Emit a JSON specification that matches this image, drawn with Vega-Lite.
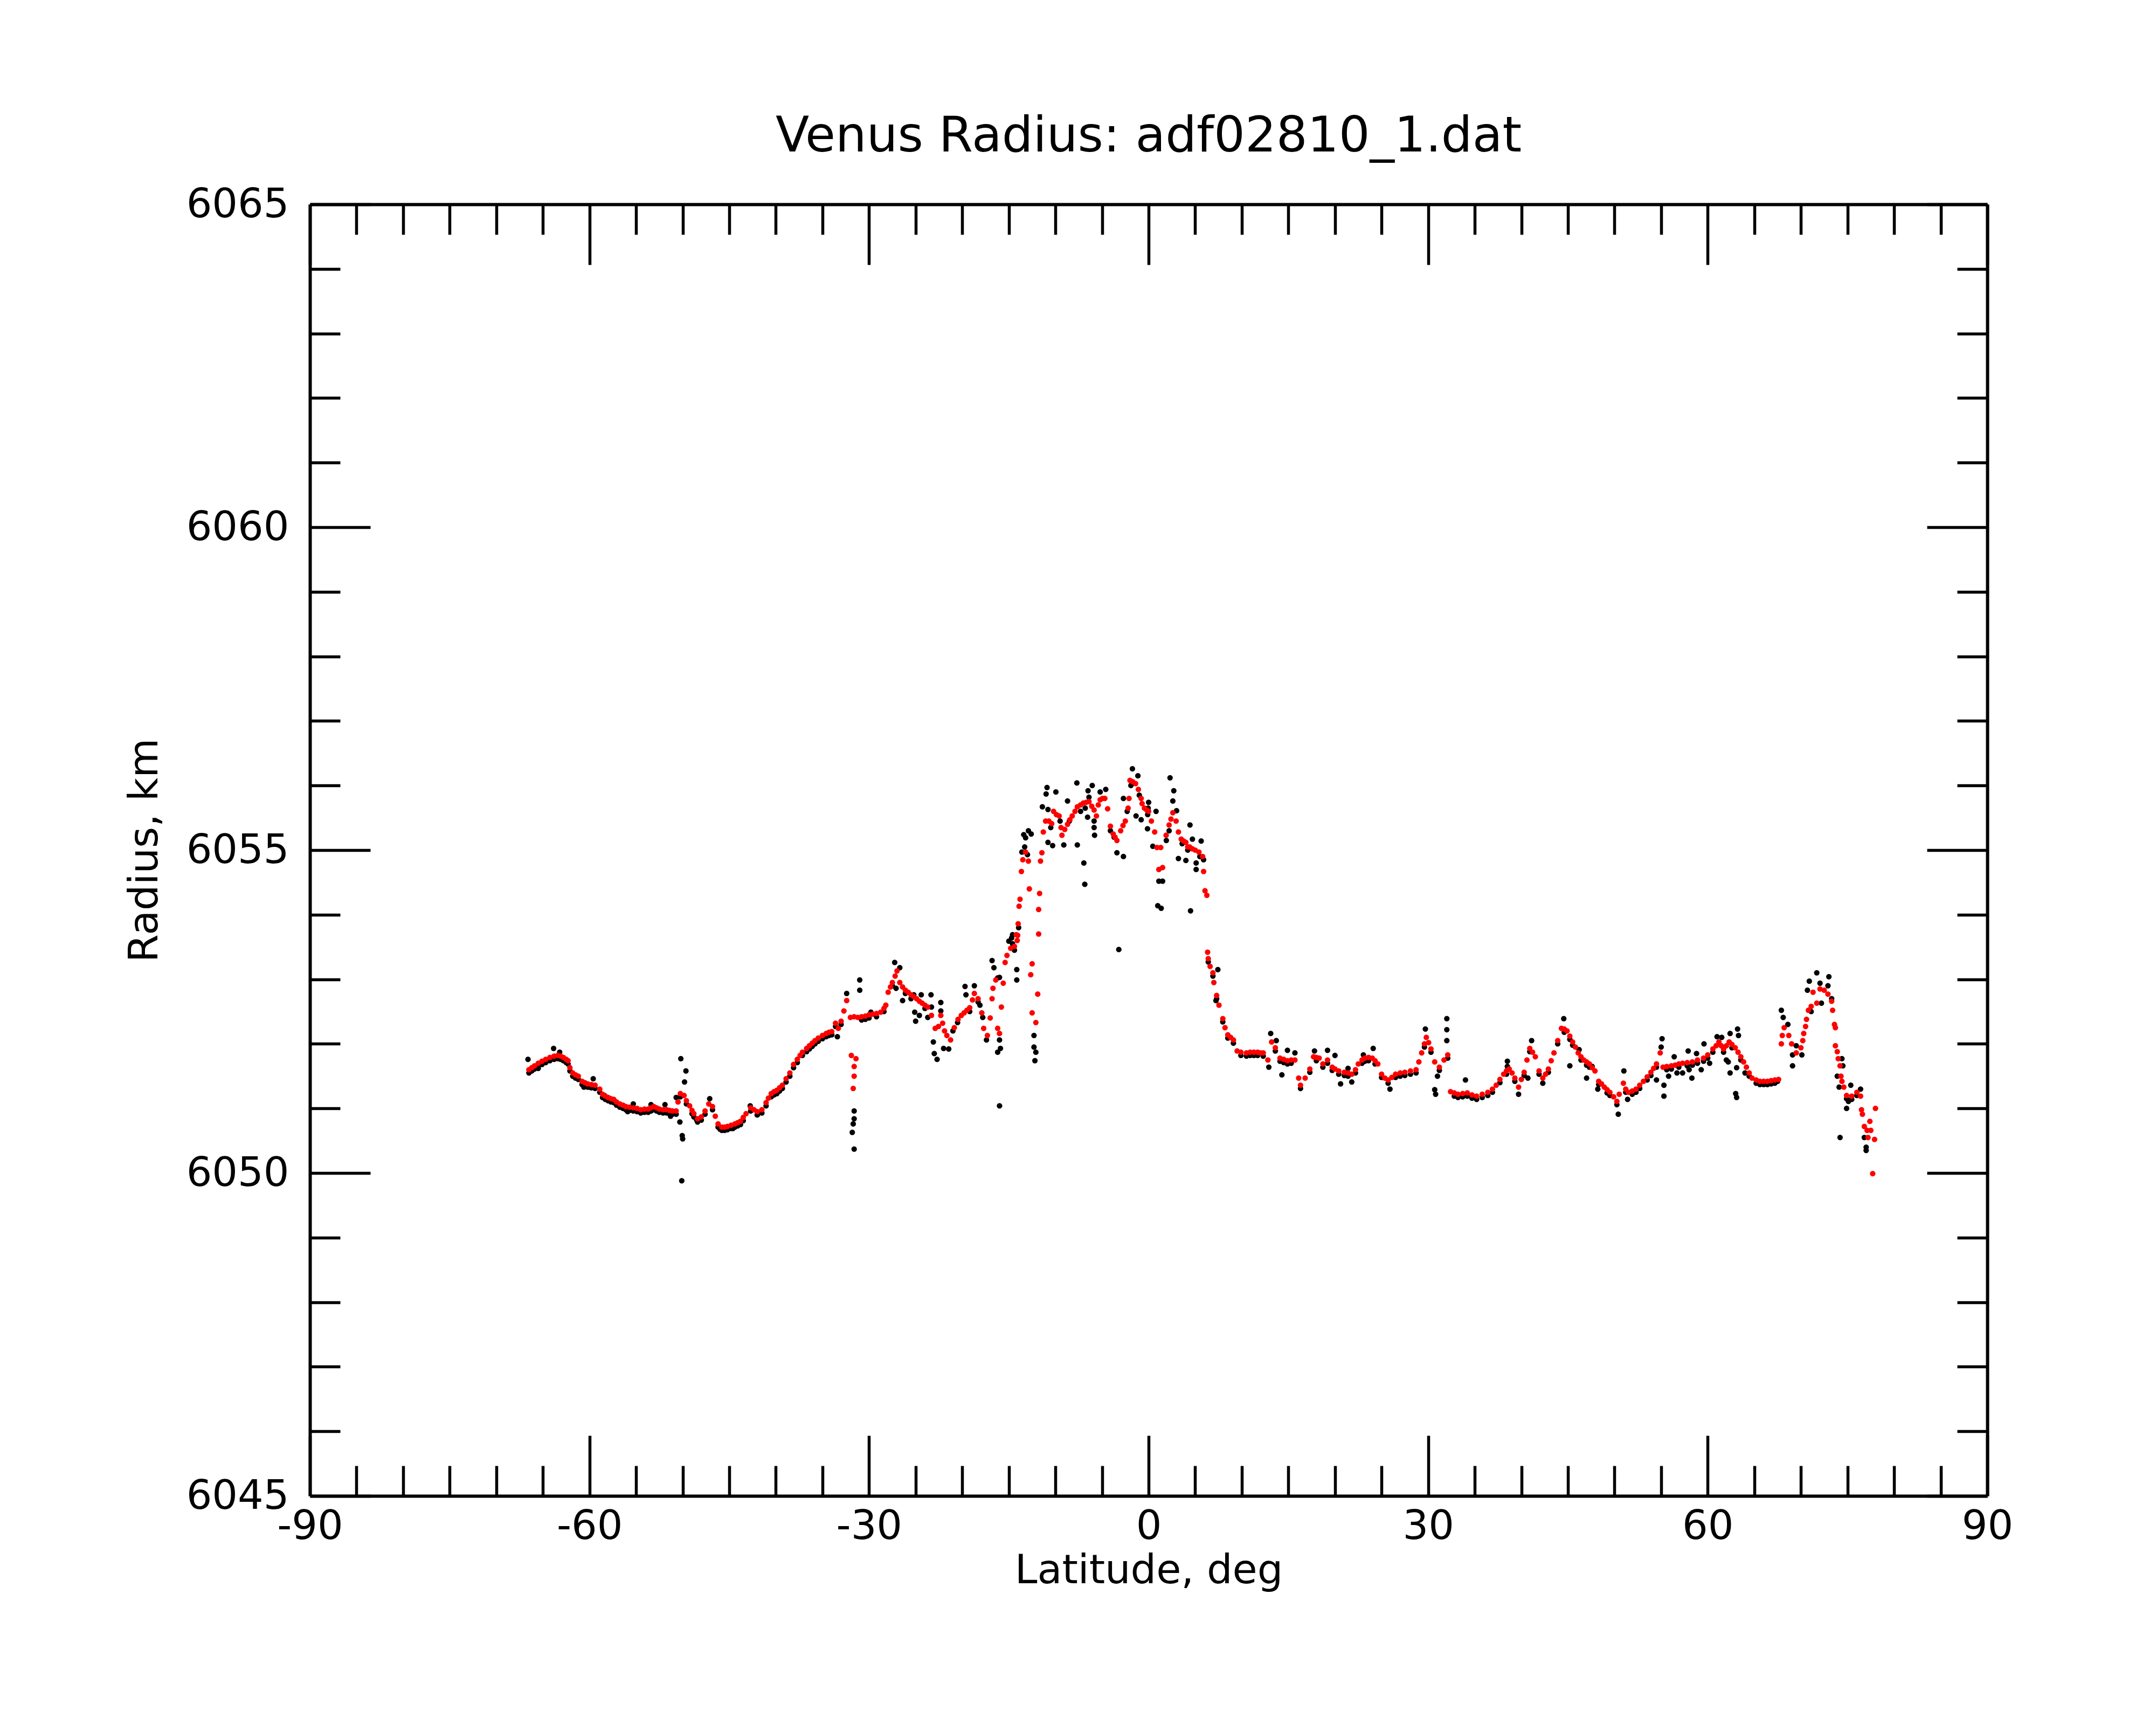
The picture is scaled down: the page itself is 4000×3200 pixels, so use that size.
{
"$schema": "https://vega.github.io/schema/vega-lite/v6.json",
"width": 3112, "height": 2396,
"autosize": {"type": "none"},
"padding": {"left": 575, "top": 379, "right": 313, "bottom": 425},
"background": "white",
"config": {"view": {"stroke": null}, "font": "DejaVu Sans"},
"title": {"text": "Venus Radius: adf02810_1.dat", "font": "DejaVu Sans", "fontSize": 91, "fontWeight": "normal", "color": "black", "anchor": "middle", "baseline": "alphabetic", "offset": -30},
"datasets": {
"raw": [
{"lat":-66.5,"r":6051.55},{"lat":-65.9,"r":6051.61},{"lat":-65.1,"r":6051.68},{"lat":-64.25,"r":6051.74},{"lat":-63.4,"r":6051.77},{"lat":-62.8,"r":6051.74},{"lat":-62.3,"r":6051.69},{"lat":-61.8,"r":6051.5},{"lat":-61.2,"r":6051.45},{"lat":-60.5,"r":6051.35},{"lat":-59.8,"r":6051.32},{"lat":-58.9,"r":6051.25},{"lat":-58.3,"r":6051.14},{"lat":-57.7,"r":6051.1},{"lat":-57.1,"r":6051.05},{"lat":-56.4,"r":6051.0},{"lat":-55.7,"r":6050.97},{"lat":-54.9,"r":6050.95},{"lat":-54.1,"r":6050.94},{"lat":-53.4,"r":6050.96},{"lat":-52.8,"r":6050.96},{"lat":-52.1,"r":6050.93},{"lat":-51.4,"r":6050.92},{"lat":-50.7,"r":6050.91},{"lat":-50.25,"r":6051.18},{"lat":-49.6,"r":6051.07},{"lat":-49.0,"r":6050.92},{"lat":-48.4,"r":6050.79},{"lat":-47.6,"r":6050.91},{"lat":-46.8,"r":6050.98},{"lat":-46.2,"r":6050.71},{"lat":-45.5,"r":6050.66},{"lat":-44.8,"r":6050.69},{"lat":-44.1,"r":6050.73},{"lat":-43.5,"r":6050.81},{"lat":-42.7,"r":6050.96},{"lat":-42.0,"r":6050.9},{"lat":-41.05,"r":6051.04},{"lat":-40.5,"r":6051.18},{"lat":-39.9,"r":6051.23},{"lat":-39.3,"r":6051.31},{"lat":-38.5,"r":6051.5},{"lat":-37.7,"r":6051.71},{"lat":-37.15,"r":6051.82},{"lat":-36.4,"r":6051.92},{"lat":-35.8,"r":6052.0},{"lat":-35.0,"r":6052.08},{"lat":-34.3,"r":6052.13},{"lat":-33.6,"r":6052.27},{"lat":-33.0,"r":6052.3},{"lat":-30.8,"r":6052.37},{"lat":-30.0,"r":6052.4},{"lat":-29.2,"r":6052.42},{"lat":-28.4,"r":6052.5},
{"lat":-66.2,"r":6051.58},{"lat":-65.5,"r":6051.65},{"lat":-64.7,"r":6051.71},{"lat":-63.8,"r":6051.76},{"lat":-63.1,"r":6051.76},{"lat":-62.5,"r":6051.71},{"lat":-62.1,"r":6051.58},{"lat":-61.5,"r":6051.47},{"lat":-60.8,"r":6051.37},{"lat":-60.2,"r":6051.33},{"lat":-59.4,"r":6051.31},{"lat":-58.6,"r":6051.17},{"lat":-58.0,"r":6051.12},{"lat":-57.4,"r":6051.09},{"lat":-56.75,"r":6051.02},{"lat":-56.1,"r":6050.98},{"lat":-55.3,"r":6050.96},{"lat":-54.5,"r":6050.93},{"lat":-53.7,"r":6050.94},{"lat":-53.1,"r":6050.98},{"lat":-52.5,"r":6050.94},{"lat":-51.7,"r":6050.93},{"lat":-51.1,"r":6050.91},{"lat":-48.8,"r":6050.87},{"lat":-48.0,"r":6050.82},{"lat":-45.8,"r":6050.66},{"lat":-45.2,"r":6050.67},{"lat":-44.4,"r":6050.71},{"lat":-43.8,"r":6050.75},{"lat":-41.5,"r":6050.93},{"lat":-40.2,"r":6051.21},{"lat":-39.6,"r":6051.27},{"lat":-38.9,"r":6051.41},{"lat":-38.1,"r":6051.63},{"lat":-36.7,"r":6051.88},{"lat":-36.1,"r":6051.96},{"lat":-35.45,"r":6052.04},{"lat":-34.6,"r":6052.11},{"lat":-34.0,"r":6052.14},
{"lat":-27.5,"r":6052.9},{"lat":-26.1,"r":6052.78},{"lat":-25.5,"r":6052.7},{"lat":-24.0,"r":6052.55},{"lat":-21.0,"r":6052.2},{"lat":-20.5,"r":6052.33},{"lat":-19.2,"r":6052.5},{"lat":-18.3,"r":6052.65},
{"lat":-66.6,"r":6051.76},{"lat":-65.5,"r":6051.62},{"lat":-63.85,"r":6051.93},{"lat":-63.2,"r":6051.87},{"lat":-60.6,"r":6051.33},{"lat":-59.6,"r":6051.46},{"lat":-60.0,"r":6051.33},{"lat":-58.4,"r":6051.2},{"lat":-55.9,"r":6050.95},{"lat":-55.3,"r":6051.07},{"lat":-54.5,"r":6050.96},{"lat":-53.4,"r":6051.06},{"lat":-51.9,"r":6051.06},{"lat":-51.3,"r":6050.88},{"lat":-50.7,"r":6051.17},{"lat":-50.2,"r":6051.77},{"lat":-49.65,"r":6051.58},{"lat":-49.8,"r":6051.41},{"lat":-50.3,"r":6050.79},{"lat":-50.05,"r":6050.58},{"lat":-50.0,"r":6050.53},{"lat":-50.1,"r":6049.88},{"lat":-47.1,"r":6051.15},{"lat":-48.5,"r":6050.82},{"lat":-46.0,"r":6050.68},{"lat":-44.6,"r":6050.69},{"lat":-42.75,"r":6051.04},{"lat":-42.0,"r":6050.9},{"lat":-39.9,"r":6051.23},
{"lat":-31.0,"r":6052.99},{"lat":-31.0,"r":6052.83},{"lat":-31.6,"r":6050.96},{"lat":-31.6,"r":6050.84},{"lat":-31.7,"r":6050.76},{"lat":-31.8,"r":6050.63},{"lat":-31.6,"r":6050.37},{"lat":-30.4,"r":6052.38},{"lat":-29.8,"r":6052.49},{"lat":-33.4,"r":6052.11},{"lat":-32.4,"r":6052.78},
{"lat":-27.25,"r":6053.26},{"lat":-26.7,"r":6053.18},{"lat":-27.1,"r":6052.86},{"lat":-26.4,"r":6052.67},{"lat":-25.2,"r":6052.76},{"lat":-24.4,"r":6052.76},{"lat":-25.1,"r":6052.49},{"lat":-25.0,"r":6052.35},{"lat":-24.6,"r":6052.44},{"lat":-23.35,"r":6052.76},{"lat":-23.3,"r":6052.57},{"lat":-23.7,"r":6052.41},{"lat":-23.1,"r":6052.03},{"lat":-23.0,"r":6051.85},{"lat":-22.7,"r":6051.76},{"lat":-22.3,"r":6052.64},{"lat":-22.3,"r":6052.51},{"lat":-22.0,"r":6051.93},{"lat":-21.45,"r":6051.92},{"lat":-19.7,"r":6052.89},{"lat":-19.6,"r":6052.76},{"lat":-18.7,"r":6052.9},{"lat":-18.1,"r":6052.6},{"lat":-17.8,"r":6052.41},{"lat":-17.4,"r":6052.06},{"lat":-16.8,"r":6053.29},{"lat":-16.6,"r":6053.18},{"lat":-16.2,"r":6053.02},{"lat":-16.0,"r":6052.06},{"lat":-15.9,"r":6051.93},{"lat":-16.2,"r":6051.87},{"lat":-16.0,"r":6051.04},{"lat":-16.0,"r":6053.03},{"lat":-15.0,"r":6053.59},{"lat":-14.6,"r":6053.69},{"lat":-14.15,"r":6053.15},{"lat":-14.15,"r":6052.99},{"lat":-12.3,"r":6052.13},{"lat":-12.3,"r":6051.95},{"lat":-12.2,"r":6051.74},{"lat":-12.1,"r":6051.87},
{"lat":-14.7,"r":6053.64},{"lat":-14.6,"r":6053.55},{"lat":-14.4,"r":6053.45},{"lat":-13.95,"r":6053.8},
{"lat":-1.74,"r":6056.26},{"lat":-1.15,"r":6056.15},{"lat":2.3,"r":6056.12},{"lat":2.7,"r":6055.92},{"lat":2.6,"r":6055.76},{"lat":-7.7,"r":6056.04},{"lat":-6.05,"r":6056.0},{"lat":-10.9,"r":6055.97},{"lat":-11.0,"r":6055.87},{"lat":-9.95,"r":6055.9},{"lat":-8.7,"r":6055.76},{"lat":-4.6,"r":6055.94},{"lat":-5.2,"r":6055.9},{"lat":-6.5,"r":6055.92},{"lat":-6.4,"r":6055.82},{"lat":-11.4,"r":6055.67},{"lat":-10.8,"r":6055.63},{"lat":-13.4,"r":6055.24},{"lat":-13.2,"r":6055.19},{"lat":-13.3,"r":6055.05},{"lat":-13.6,"r":6054.97},{"lat":-13.0,"r":6054.93},{"lat":-10.8,"r":6055.12},{"lat":-10.3,"r":6055.07},{"lat":-9.1,"r":6055.08},{"lat":-7.65,"r":6055.08},{"lat":-5.8,"r":6055.23},{"lat":-5.85,"r":6055.35},{"lat":-5.85,"r":6055.45},{"lat":-6.55,"r":6055.51},{"lat":-6.95,"r":6054.8},{"lat":-6.85,"r":6054.47},{"lat":-3.4,"r":6054.96},{"lat":-2.7,"r":6054.9},{"lat":-2.7,"r":6055.8},{"lat":-1.35,"r":6055.53},{"lat":-0.8,"r":6055.47},{"lat":-0.12,"r":6055.33},{"lat":0.45,"r":6055.06},{"lat":0.98,"r":6054.14},{"lat":1.35,"r":6054.1},{"lat":1.1,"r":6054.52},{"lat":1.5,"r":6054.52},{"lat":3.2,"r":6054.87},{"lat":4.0,"r":6054.84},{"lat":4.44,"r":6055.39},{"lat":4.5,"r":6054.06},{"lat":5.1,"r":6054.8},{"lat":5.64,"r":6055.14},{"lat":5.1,"r":6054.7},{"lat":0.0,"r":6055.74},{"lat":-0.05,"r":6055.65},{"lat":0.8,"r":6055.6},{"lat":3.0,"r":6055.61},{"lat":4.7,"r":6055.17},{"lat":-0.1,"r":6055.55},
{"lat":-10.5,"r":6055.35},{"lat":-9.5,"r":6055.45},{"lat":-8.5,"r":6055.45},{"lat":-7.3,"r":6055.6},{"lat":-6.8,"r":6055.65},{"lat":-4.1,"r":6055.3},{"lat":-3.7,"r":6055.2},{"lat":-2.3,"r":6055.6},{"lat":-1.9,"r":6056.0},{"lat":-1.0,"r":6055.85},{"lat":1.9,"r":6055.15},{"lat":2.2,"r":6055.3},{"lat":3.6,"r":6055.1},{"lat":4.2,"r":6055.0},{"lat":5.5,"r":6054.9},{"lat":5.9,"r":6054.85},{"lat":-3.2,"r":6053.46},{"lat":-12.9,"r":6055.3},{"lat":-12.6,"r":6055.25},
{"lat":6.4,"r":6053.27},{"lat":6.9,"r":6053.05},{"lat":7.3,"r":6052.7},{"lat":7.96,"r":6052.34},{"lat":8.5,"r":6052.09},{"lat":9.1,"r":6052.01},{"lat":9.9,"r":6051.82},{"lat":10.9,"r":6051.82},{"lat":11.7,"r":6051.82},{"lat":12.3,"r":6051.81},{"lat":13.6,"r":6051.89},{"lat":14.5,"r":6051.71},{"lat":15.3,"r":6051.7},{"lat":16.3,"r":6051.31},{"lat":17.3,"r":6051.56},{"lat":18.0,"r":6051.74},{"lat":18.7,"r":6051.64},{"lat":19.7,"r":6051.59},{"lat":20.4,"r":6051.53},{"lat":21.4,"r":6051.5},{"lat":22.2,"r":6051.55},{"lat":22.9,"r":6051.7},{"lat":23.6,"r":6051.74},{"lat":24.3,"r":6051.69},{"lat":25.0,"r":6051.48},{"lat":25.7,"r":6051.39},{"lat":26.5,"r":6051.48},{"lat":27.5,"r":6051.51},{"lat":28.7,"r":6051.55},{"lat":29.6,"r":6051.95},{"lat":30.3,"r":6051.87},{"lat":31.2,"r":6051.59},{"lat":32.1,"r":6051.78},{"lat":32.8,"r":6051.19},{"lat":33.7,"r":6051.18},{"lat":34.7,"r":6051.16},{"lat":35.8,"r":6051.17},{"lat":36.9,"r":6051.25},{"lat":37.7,"r":6051.4},{"lat":38.4,"r":6051.53},{"lat":39.3,"r":6051.42},{"lat":40.3,"r":6051.51},{"lat":40.9,"r":6051.88},{"lat":41.9,"r":6051.53},{"lat":42.9,"r":6051.56},{"lat":43.9,"r":6052.0},{"lat":44.6,"r":6052.18},{"lat":45.5,"r":6051.98},{"lat":46.4,"r":6051.75},{"lat":47.3,"r":6051.64},{"lat":48.3,"r":6051.37},{"lat":49.2,"r":6051.24},{"lat":50.25,"r":6051.06},{"lat":51.2,"r":6051.25},{"lat":52.3,"r":6051.25},{"lat":53.5,"r":6051.44},{"lat":54.5,"r":6051.64},{"lat":55.6,"r":6051.6},{"lat":56.9,"r":6051.64},{"lat":58.35,"r":6051.67},{"lat":59.55,"r":6051.73},{"lat":60.55,"r":6051.87},{"lat":61.7,"r":6051.87},{"lat":62.6,"r":6051.94},{"lat":63.55,"r":6051.75},{"lat":64.45,"r":6051.5},{"lat":65.6,"r":6051.37},{"lat":66.4,"r":6051.37},{"lat":67.2,"r":6051.39},{"lat":74.9,"r":6051.15},{"lat":75.45,"r":6051.14},{"lat":76.0,"r":6051.2},
{"lat":10.5,"r":6051.81},{"lat":11.3,"r":6051.82},{"lat":14.1,"r":6051.73},{"lat":14.9,"r":6051.69},{"lat":19.2,"r":6051.7},{"lat":21.0,"r":6051.51},{"lat":23.2,"r":6051.73},{"lat":27.0,"r":6051.5},{"lat":28.1,"r":6051.53},{"lat":33.2,"r":6051.17},{"lat":34.2,"r":6051.19},{"lat":35.2,"r":6051.14},{"lat":36.4,"r":6051.2},{"lat":45.2,"r":6052.07},{"lat":47.0,"r":6051.67},{"lat":49.5,"r":6051.2},{"lat":51.9,"r":6051.22},{"lat":52.7,"r":6051.31},{"lat":53.9,"r":6051.51},{"lat":56.1,"r":6051.61},{"lat":57.8,"r":6051.66},{"lat":58.9,"r":6051.7},{"lat":60.0,"r":6051.78},{"lat":65.2,"r":6051.39},{"lat":66.0,"r":6051.37},{"lat":66.8,"r":6051.38},
{"lat":7.43,"r":6053.15},{"lat":7.23,"r":6052.67},{"lat":13.1,"r":6052.16},{"lat":13.7,"r":6052.05},{"lat":12.9,"r":6051.64},{"lat":14.3,"r":6051.52},{"lat":14.9,"r":6051.9},{"lat":15.7,"r":6051.86},{"lat":17.8,"r":6051.89},{"lat":19.2,"r":6051.9},{"lat":20.0,"r":6051.82},{"lat":20.6,"r":6051.38},{"lat":21.8,"r":6051.41},{"lat":21.4,"r":6051.62},{"lat":23.05,"r":6051.83},{"lat":24.1,"r":6051.93},{"lat":25.9,"r":6051.3},{"lat":29.7,"r":6052.23},{"lat":32.0,"r":6052.39},{"lat":32.0,"r":6052.22},{"lat":32.0,"r":6052.05},{"lat":30.8,"r":6051.22},{"lat":30.7,"r":6051.29},{"lat":31.0,"r":6051.5},{"lat":34.0,"r":6051.44},{"lat":34.0,"r":6051.22},{"lat":38.5,"r":6051.73},{"lat":38.5,"r":6051.65},{"lat":39.7,"r":6051.22},{"lat":41.1,"r":6052.05},{"lat":40.7,"r":6051.47},{"lat":42.3,"r":6051.39},{"lat":44.55,"r":6052.39},{"lat":46.2,"r":6051.91},{"lat":45.2,"r":6051.66},{"lat":47.6,"r":6051.65},{"lat":47.0,"r":6051.47},{"lat":48.2,"r":6051.3},{"lat":50.4,"r":6050.91},{"lat":51.0,"r":6051.58},{"lat":51.4,"r":6051.14},{"lat":54.5,"r":6051.44},{"lat":55.1,"r":6052.08},{"lat":55.3,"r":6051.36},{"lat":55.3,"r":6051.19},{"lat":56.7,"r":6051.55},{"lat":57.9,"r":6051.89},{"lat":58.3,"r":6051.47},{"lat":59.6,"r":6052.0},{"lat":61.0,"r":6052.11},{"lat":62.4,"r":6051.55},{"lat":62.4,"r":6052.16},{"lat":63.2,"r":6052.23},{"lat":63.0,"r":6051.23},{"lat":64.0,"r":6051.55},
{"lat":55.0,"r":6051.95},{"lat":55.8,"r":6051.5},{"lat":56.4,"r":6051.8},{"lat":57.3,"r":6051.55},{"lat":58.0,"r":6051.6},{"lat":58.8,"r":6051.85},{"lat":59.3,"r":6051.6},{"lat":60.2,"r":6051.7},{"lat":61.5,"r":6052.1},{"lat":62.0,"r":6051.75},
{"lat":71.7,"r":6053.1},{"lat":73.0,"r":6053.04},{"lat":70.9,"r":6052.97},{"lat":72.05,"r":6052.94},{"lat":70.7,"r":6052.83},{"lat":72.9,"r":6052.9},{"lat":71.1,"r":6052.5},{"lat":72.2,"r":6052.63},{"lat":73.3,"r":6052.7},{"lat":67.9,"r":6052.52},{"lat":68.1,"r":6052.41},{"lat":68.6,"r":6052.3},{"lat":69.5,"r":6051.97},{"lat":69.1,"r":6051.83},{"lat":70.1,"r":6051.83},{"lat":69.1,"r":6051.66},{"lat":63.3,"r":6052.13},{"lat":62.2,"r":6051.72},{"lat":63.1,"r":6051.63},{"lat":63.1,"r":6051.17},{"lat":74.4,"r":6051.77},{"lat":74.5,"r":6051.66},{"lat":73.9,"r":6051.5},{"lat":74.1,"r":6051.33},{"lat":75.35,"r":6051.36},{"lat":76.4,"r":6051.3},{"lat":75.1,"r":6051.11},{"lat":74.9,"r":6051.0},{"lat":74.2,"r":6050.55},{"lat":76.8,"r":6050.55},{"lat":77.0,"r":6050.4},{"lat":77.0,"r":6050.35},{"lat":67.5,"r":6051.42},{"lat":67.0,"r":6051.4}
],
"fit": [
{"lat":-66.5,"r":6051.6},{"lat":-66.2,"r":6051.63},{"lat":-65.9,"r":6051.66},{"lat":-65.5,"r":6051.7},{"lat":-65.1,"r":6051.73},{"lat":-64.7,"r":6051.76},{"lat":-64.25,"r":6051.79},{"lat":-63.8,"r":6051.81},{"lat":-63.4,"r":6051.82},{"lat":-63.1,"r":6051.81},{"lat":-62.8,"r":6051.79},{"lat":-62.5,"r":6051.76},{"lat":-62.3,"r":6051.74},{"lat":-62.1,"r":6051.63},{"lat":-61.8,"r":6051.55},{"lat":-61.5,"r":6051.52},{"lat":-61.2,"r":6051.5},{"lat":-60.8,"r":6051.42},{"lat":-60.5,"r":6051.4},{"lat":-60.2,"r":6051.38},{"lat":-59.8,"r":6051.37},{"lat":-59.4,"r":6051.36},{"lat":-58.9,"r":6051.3},{"lat":-58.6,"r":6051.22},{"lat":-58.3,"r":6051.19},{"lat":-58.0,"r":6051.17},{"lat":-57.7,"r":6051.15},{"lat":-57.4,"r":6051.14},{"lat":-57.1,"r":6051.1},{"lat":-56.75,"r":6051.07},{"lat":-56.4,"r":6051.05},{"lat":-56.1,"r":6051.03},{"lat":-55.7,"r":6051.02},{"lat":-55.3,"r":6051.01},{"lat":-54.9,"r":6051.0},{"lat":-54.5,"r":6050.98},{"lat":-54.1,"r":6050.99},{"lat":-53.7,"r":6050.99},{"lat":-53.4,"r":6051.01},{"lat":-53.1,"r":6051.03},{"lat":-52.8,"r":6051.01},{"lat":-52.5,"r":6050.99},{"lat":-52.1,"r":6050.98},{"lat":-51.7,"r":6050.98},{"lat":-51.4,"r":6050.97},{"lat":-51.1,"r":6050.96},{"lat":-50.7,"r":6050.96},{"lat":-50.5,"r":6051.1},{"lat":-50.25,"r":6051.23},{"lat":-49.85,"r":6051.2},{"lat":-49.6,"r":6051.12},{"lat":-49.25,"r":6051.04},{"lat":-49.0,"r":6050.97},{"lat":-48.8,"r":6050.92},{"lat":-48.4,"r":6050.84},{"lat":-48.0,"r":6050.87},{"lat":-47.6,"r":6050.96},{"lat":-47.2,"r":6051.07},{"lat":-46.8,"r":6051.03},{"lat":-46.5,"r":6050.88},{"lat":-46.2,"r":6050.76},{"lat":-45.8,"r":6050.71},{"lat":-45.5,"r":6050.71},{"lat":-45.2,"r":6050.72},{"lat":-44.8,"r":6050.74},{"lat":-44.4,"r":6050.76},{"lat":-44.1,"r":6050.78},{"lat":-43.8,"r":6050.8},{"lat":-43.5,"r":6050.86},{"lat":-43.2,"r":6050.92},{"lat":-42.7,"r":6051.01},{"lat":-42.35,"r":6050.98},{"lat":-42.0,"r":6050.95},{"lat":-41.5,"r":6050.98},{"lat":-41.05,"r":6051.09},{"lat":-40.8,"r":6051.16},{"lat":-40.5,"r":6051.23},{"lat":-40.2,"r":6051.26},{"lat":-39.9,"r":6051.28},{"lat":-39.6,"r":6051.32},{"lat":-39.3,"r":6051.36},{"lat":-38.9,"r":6051.46},{"lat":-38.5,"r":6051.55},{"lat":-38.1,"r":6051.68},{"lat":-37.7,"r":6051.76},{"lat":-37.4,"r":6051.82},{"lat":-37.15,"r":6051.87},{"lat":-36.7,"r":6051.93},{"lat":-36.4,"r":6051.97},{"lat":-36.1,"r":6052.01},{"lat":-35.8,"r":6052.05},{"lat":-35.45,"r":6052.09},{"lat":-35.0,"r":6052.13},{"lat":-34.6,"r":6052.16},{"lat":-34.3,"r":6052.18},{"lat":-34.0,"r":6052.19},{"lat":-33.6,"r":6052.32},{"lat":-33.3,"r":6052.24},{"lat":-33.0,"r":6052.35},{"lat":-32.7,"r":6052.51},{"lat":-32.4,"r":6052.67},{"lat":-32.0,"r":6052.41},{"lat":-31.9,"r":6051.82},{"lat":-31.4,"r":6051.77},{"lat":-31.6,"r":6051.65},{"lat":-31.6,"r":6051.5},{"lat":-31.7,"r":6051.31},{"lat":-31.6,"r":6052.42},{"lat":-31.2,"r":6052.41},{"lat":-30.8,"r":6052.42},{"lat":-30.4,"r":6052.43},{"lat":-30.0,"r":6052.45},{"lat":-29.6,"r":6052.46},{"lat":-29.2,"r":6052.47},{"lat":-28.75,"r":6052.49},{"lat":-28.4,"r":6052.55},{"lat":-28.2,"r":6052.6},{"lat":-27.95,"r":6052.8},{"lat":-27.7,"r":6052.88},{"lat":-27.5,"r":6052.95},{"lat":-27.2,"r":6053.05},{"lat":-27.0,"r":6053.13},{"lat":-26.7,"r":6052.95},{"lat":-26.4,"r":6052.88},{"lat":-26.1,"r":6052.83},{"lat":-25.8,"r":6052.8},{"lat":-25.5,"r":6052.76},{"lat":-25.2,"r":6052.73},{"lat":-24.9,"r":6052.7},{"lat":-24.6,"r":6052.66},{"lat":-24.3,"r":6052.63},{"lat":-24.0,"r":6052.6},{"lat":-23.7,"r":6052.57},{"lat":-23.3,"r":6052.44},{"lat":-22.9,"r":6052.24},{"lat":-22.55,"r":6052.27},{"lat":-22.3,"r":6052.44},{"lat":-22.1,"r":6052.32},{"lat":-21.9,"r":6052.2},{"lat":-21.65,"r":6052.13},{"lat":-21.25,"r":6052.06},{"lat":-20.85,"r":6052.25},{"lat":-20.45,"r":6052.38},{"lat":-20.1,"r":6052.44},{"lat":-19.8,"r":6052.48},{"lat":-19.5,"r":6052.52},{"lat":-19.2,"r":6052.56},{"lat":-18.9,"r":6052.68},{"lat":-18.7,"r":6052.78},{"lat":-18.3,"r":6052.7},{"lat":-17.9,"r":6052.48},{"lat":-17.7,"r":6052.24},{"lat":-17.3,"r":6052.13},{"lat":-17.0,"r":6052.4},{"lat":-16.8,"r":6052.7},{"lat":-16.7,"r":6052.86},{"lat":-16.4,"r":6052.99},{"lat":-16.2,"r":6052.24},{"lat":-16.0,"r":6052.16},{"lat":-15.8,"r":6052.57},{"lat":-15.6,"r":6052.94},{"lat":-15.4,"r":6053.26},{"lat":-15.2,"r":6053.37},{"lat":-14.8,"r":6053.48},{"lat":-14.4,"r":6053.51},{"lat":-14.2,"r":6053.69},{"lat":-14.1,"r":6053.6},{"lat":-14.05,"r":6053.68},{"lat":-14.0,"r":6053.86},{"lat":-13.9,"r":6054.13},{"lat":-13.8,"r":6054.24},{"lat":-13.65,"r":6054.67},{"lat":-13.5,"r":6054.85},{"lat":-13.2,"r":6054.97},{"lat":-12.9,"r":6054.83},{"lat":-12.8,"r":6054.4},{"lat":-12.65,"r":6053.07},{"lat":-12.5,"r":6053.24},{"lat":-12.5,"r":6052.48},{"lat":-12.1,"r":6052.33},{"lat":-11.9,"r":6052.77},{"lat":-11.8,"r":6053.7},{"lat":-11.8,"r":6054.08},{"lat":-11.7,"r":6054.33},{"lat":-11.6,"r":6054.83},{"lat":-11.45,"r":6054.96},{"lat":-11.3,"r":6055.28},{"lat":-11.05,"r":6055.45},{"lat":-10.7,"r":6055.45},{"lat":-10.4,"r":6055.41},{"lat":-10.2,"r":6055.6},{"lat":-9.9,"r":6055.55},{"lat":-9.6,"r":6055.53},{"lat":-9.4,"r":6055.35},{"lat":-9.3,"r":6055.23},{"lat":-9.0,"r":6055.32},{"lat":-8.7,"r":6055.4},{"lat":-8.45,"r":6055.47},{"lat":-8.2,"r":6055.53},{"lat":-7.9,"r":6055.6},{"lat":-7.65,"r":6055.67},{"lat":-7.3,"r":6055.7},{"lat":-7.0,"r":6055.73},{"lat":-6.7,"r":6055.74},{"lat":-6.4,"r":6055.75},{"lat":-6.1,"r":6055.68},{"lat":-5.85,"r":6055.62},{"lat":-5.6,"r":6055.53},{"lat":-5.4,"r":6055.7},{"lat":-5.2,"r":6055.78},{"lat":-4.95,"r":6055.8},{"lat":-4.7,"r":6055.8},{"lat":-4.4,"r":6055.64},{"lat":-4.1,"r":6055.37},{"lat":-3.8,"r":6055.25},{"lat":-3.6,"r":6055.2},{"lat":-3.4,"r":6055.15},{"lat":-3.0,"r":6055.3},{"lat":-2.75,"r":6055.38},{"lat":-2.5,"r":6055.45},{"lat":-2.2,"r":6055.65},{"lat":-2.1,"r":6055.8},{"lat":-2.0,"r":6056.08},{"lat":-1.7,"r":6056.06},{"lat":-1.4,"r":6056.03},{"lat":-1.1,"r":6055.94},{"lat":-0.8,"r":6055.8},{"lat":-0.7,"r":6055.72},{"lat":-0.45,"r":6055.65},{"lat":-0.2,"r":6055.62},{"lat":0.0,"r":6055.6},{"lat":0.3,"r":6055.45},{"lat":0.65,"r":6055.28},{"lat":0.9,"r":6055.04},{"lat":1.1,"r":6054.7},{"lat":1.3,"r":6055.04},{"lat":1.5,"r":6054.73},{"lat":1.88,"r":6055.23},{"lat":2.2,"r":6055.39},{"lat":2.4,"r":6055.48},{"lat":2.6,"r":6055.58},{"lat":2.95,"r":6055.45},{"lat":3.2,"r":6055.28},{"lat":3.5,"r":6055.17},{"lat":3.75,"r":6055.14},{"lat":4.0,"r":6055.12},{"lat":4.2,"r":6055.05},{"lat":4.4,"r":6055.05},{"lat":4.7,"r":6055.02},{"lat":5.0,"r":6055.0},{"lat":5.4,"r":6054.97},{"lat":5.8,"r":6054.9},{"lat":5.9,"r":6054.67},{"lat":6.05,"r":6054.37},{"lat":6.25,"r":6054.3},
{"lat":6.33,"r":6053.42},{"lat":6.4,"r":6053.32},{"lat":6.6,"r":6053.2},{"lat":6.9,"r":6053.1},{"lat":7.0,"r":6052.95},{"lat":7.3,"r":6052.75},{"lat":7.55,"r":6052.6},{"lat":7.96,"r":6052.39},{"lat":8.2,"r":6052.25},{"lat":8.5,"r":6052.14},{"lat":8.8,"r":6052.1},{"lat":9.1,"r":6052.06},{"lat":9.5,"r":6051.89},{"lat":9.9,"r":6051.87},{"lat":10.5,"r":6051.86},{"lat":10.9,"r":6051.87},{"lat":11.3,"r":6051.87},{"lat":11.7,"r":6051.87},{"lat":12.0,"r":6051.86},{"lat":12.3,"r":6051.86},{"lat":12.8,"r":6051.75},{"lat":13.2,"r":6052.03},{"lat":13.6,"r":6051.94},{"lat":14.1,"r":6051.78},{"lat":14.5,"r":6051.76},{"lat":14.9,"r":6051.74},{"lat":15.3,"r":6051.75},{"lat":15.7,"r":6051.75},{"lat":16.1,"r":6051.47},{"lat":16.3,"r":6051.36},{"lat":16.8,"r":6051.47},{"lat":17.3,"r":6051.61},{"lat":17.7,"r":6051.8},{"lat":18.0,"r":6051.79},{"lat":18.3,"r":6051.78},{"lat":18.7,"r":6051.69},{"lat":19.2,"r":6051.75},{"lat":19.7,"r":6051.64},{"lat":20.0,"r":6051.61},{"lat":20.4,"r":6051.58},{"lat":21.0,"r":6051.56},{"lat":21.4,"r":6051.55},{"lat":21.8,"r":6051.53},{"lat":22.2,"r":6051.6},{"lat":22.5,"r":6051.69},{"lat":22.9,"r":6051.75},{"lat":23.2,"r":6051.78},{"lat":23.6,"r":6051.79},{"lat":24.0,"r":6051.78},{"lat":24.3,"r":6051.74},{"lat":24.6,"r":6051.69},{"lat":25.0,"r":6051.53},{"lat":25.35,"r":6051.47},{"lat":25.7,"r":6051.44},{"lat":26.1,"r":6051.48},{"lat":26.5,"r":6051.53},{"lat":27.0,"r":6051.55},{"lat":27.5,"r":6051.56},{"lat":28.1,"r":6051.58},{"lat":28.7,"r":6051.6},{"lat":29.0,"r":6051.72},{"lat":29.3,"r":6051.86},{"lat":29.6,"r":6052.0},{"lat":29.8,"r":6052.1},{"lat":30.05,"r":6052.02},{"lat":30.3,"r":6051.92},{"lat":30.7,"r":6051.72},{"lat":31.2,"r":6051.64},{"lat":31.7,"r":6051.75},{"lat":32.1,"r":6051.83},{"lat":32.4,"r":6051.26},{"lat":32.8,"r":6051.24},{"lat":33.2,"r":6051.22},{"lat":33.7,"r":6051.23},{"lat":34.2,"r":6051.24},{"lat":34.7,"r":6051.21},{"lat":35.2,"r":6051.19},{"lat":35.8,"r":6051.22},{"lat":36.4,"r":6051.25},{"lat":36.9,"r":6051.3},{"lat":37.3,"r":6051.36},{"lat":37.7,"r":6051.45},{"lat":38.1,"r":6051.53},{"lat":38.4,"r":6051.58},{"lat":38.7,"r":6051.61},{"lat":39.0,"r":6051.55},{"lat":39.3,"r":6051.47},{"lat":39.7,"r":6051.33},{"lat":40.0,"r":6051.45},{"lat":40.3,"r":6051.56},{"lat":40.6,"r":6051.75},{"lat":40.9,"r":6051.93},{"lat":41.2,"r":6051.87},{"lat":41.5,"r":6051.8},{"lat":41.9,"r":6051.58},{"lat":42.3,"r":6051.47},{"lat":42.6,"r":6051.53},{"lat":42.9,"r":6051.61},{"lat":43.2,"r":6051.74},{"lat":43.5,"r":6051.86},{"lat":43.9,"r":6052.05},{"lat":44.3,"r":6052.24},{"lat":44.6,"r":6052.23},{"lat":44.9,"r":6052.2},{"lat":45.2,"r":6052.12},{"lat":45.5,"r":6052.03},{"lat":45.8,"r":6051.95},{"lat":46.1,"r":6051.86},{"lat":46.4,"r":6051.8},{"lat":46.7,"r":6051.75},{"lat":47.0,"r":6051.72},{"lat":47.3,"r":6051.69},{"lat":47.6,"r":6051.63},{"lat":47.9,"r":6051.58},{"lat":48.3,"r":6051.42},{"lat":48.6,"r":6051.38},{"lat":48.9,"r":6051.33},{"lat":49.2,"r":6051.29},{"lat":49.5,"r":6051.25},{"lat":49.9,"r":6051.18},{"lat":50.25,"r":6051.11},{"lat":50.5,"r":6051.22},{"lat":50.95,"r":6051.39},{"lat":51.2,"r":6051.3},{"lat":51.5,"r":6051.25},{"lat":51.9,"r":6051.27},{"lat":52.3,"r":6051.3},{"lat":52.7,"r":6051.36},{"lat":53.1,"r":6051.42},{"lat":53.5,"r":6051.49},{"lat":53.9,"r":6051.56},{"lat":54.2,"r":6051.62},{"lat":54.5,"r":6051.69},{"lat":54.9,"r":6051.86},{"lat":55.2,"r":6051.64},{"lat":55.6,"r":6051.65},{"lat":56.1,"r":6051.66},{"lat":56.5,"r":6051.67},{"lat":56.9,"r":6051.69},{"lat":57.3,"r":6051.7},{"lat":57.8,"r":6051.71},{"lat":58.35,"r":6051.72},{"lat":58.9,"r":6051.75},{"lat":59.55,"r":6051.78},{"lat":60.0,"r":6051.83},{"lat":60.55,"r":6051.92},{"lat":60.9,"r":6051.97},{"lat":61.2,"r":6052.03},{"lat":61.45,"r":6051.97},{"lat":61.7,"r":6051.92},{"lat":62.0,"r":6051.97},{"lat":62.3,"r":6052.03},{"lat":62.6,"r":6051.99},{"lat":62.95,"r":6051.94},{"lat":63.25,"r":6051.87},{"lat":63.55,"r":6051.8},{"lat":63.85,"r":6051.72},{"lat":64.15,"r":6051.64},{"lat":64.45,"r":6051.55},{"lat":64.75,"r":6051.47},{"lat":65.2,"r":6051.44},{"lat":65.6,"r":6051.42},{"lat":66.0,"r":6051.42},{"lat":66.4,"r":6051.42},{"lat":66.8,"r":6051.43},{"lat":67.2,"r":6051.44},{"lat":67.6,"r":6051.45},
{"lat":67.9,"r":6052.0},{"lat":68.0,"r":6052.13},{"lat":68.2,"r":6052.25},{"lat":68.7,"r":6052.13},{"lat":69.0,"r":6052.0},{"lat":69.5,"r":6051.86},{"lat":70.0,"r":6051.94},{"lat":70.2,"r":6052.05},{"lat":70.3,"r":6052.16},{"lat":70.5,"r":6052.27},{"lat":70.6,"r":6052.38},{"lat":70.8,"r":6052.52},{"lat":71.1,"r":6052.58},{"lat":71.3,"r":6052.8},{"lat":71.7,"r":6052.63},{"lat":72.05,"r":6052.85},{"lat":72.5,"r":6052.83},{"lat":72.9,"r":6052.77},{"lat":73.3,"r":6052.66},{"lat":73.4,"r":6052.52},{"lat":73.6,"r":6052.3},{"lat":73.7,"r":6052.25},{"lat":73.7,"r":6051.97},{"lat":73.9,"r":6051.88},{"lat":74.0,"r":6051.77},{"lat":74.2,"r":6051.66},{"lat":74.3,"r":6051.5},{"lat":74.4,"r":6051.42},{"lat":74.6,"r":6051.33},{"lat":74.9,"r":6051.2},{"lat":75.45,"r":6051.19},{"lat":76.0,"r":6051.25},{"lat":76.4,"r":6051.19},{"lat":76.5,"r":6050.98},{"lat":76.6,"r":6050.91},{"lat":76.8,"r":6050.72},{"lat":77.1,"r":6050.66},{"lat":77.2,"r":6050.55},{"lat":77.4,"r":6050.8},{"lat":77.5,"r":6050.66},{"lat":77.7,"r":6049.99},{"lat":77.9,"r":6050.52},{"lat":78.0,"r":6051.0}
]
},
"layer": [
{"data": {"name": "raw"},
 "mark": {"type": "circle", "size": 105, "color": "#000000", "opacity": 1},
 "encoding": {
  "x": {"field": "lat", "type": "quantitative", "scale": {"domain": [-90, 90], "nice": false, "zero": false},
   "axis": {"orient": "bottom", "values": [-90,-85,-80,-75,-70,-65,-60,-55,-50,-45,-40,-35,-30,-25,-20,-15,-10,-5,0,5,10,15,20,25,30,35,40,45,50,55,60,65,70,75,80,85,90],
    "grid": false, "domainColor": "#000000", "domainWidth": 6, "tickColor": "#000000", "tickWidth": 5.5,
    "tickSize": {"condition": {"test": "datum.value % 30 === 0", "value": -112}, "value": -56},
    "labelExpr": "datum.value % 30 === 0 ? '' + datum.value : ''",
    "labelPadding": {"condition": {"test": "datum.value % 30 === 0", "value": 132}, "value": 76},
    "labelFont": "DejaVu Sans", "labelFontSize": 75, "labelColor": "#000000", "labelBaseline": "top", "labelAlign": "center", "labelLimit": 0,
    "labelFlush": false, "labelOverlap": false, "labelBound": false,
    "title": "Latitude, deg", "titleFont": "DejaVu Sans", "titleFontSize": 75, "titleFontWeight": "normal", "titleColor": "#000000", "titlePadding": 8}},
  "y": {"field": "r", "type": "quantitative", "scale": {"domain": [6045, 6065], "nice": false, "zero": false},
   "axis": {"orient": "left", "values": [6045,6046,6047,6048,6049,6050,6051,6052,6053,6054,6055,6056,6057,6058,6059,6060,6061,6062,6063,6064,6065],
    "grid": false, "domainColor": "#000000", "domainWidth": 6, "tickColor": "#000000", "tickWidth": 5.5,
    "tickSize": {"condition": {"test": "datum.value % 5 === 0", "value": -112}, "value": -56},
    "labelExpr": "datum.value % 5 === 0 ? '' + datum.value : ''",
    "labelPadding": {"condition": {"test": "datum.value % 5 === 0", "value": 151}, "value": 95},
    "labelFont": "DejaVu Sans", "labelFontSize": 75, "labelColor": "#000000", "labelBaseline": "middle", "labelAlign": "right", "labelLimit": 0,
    "labelFlush": false, "labelOverlap": false, "labelBound": false,
    "title": "Radius, km", "titleFont": "DejaVu Sans", "titleFontSize": 75, "titleFontWeight": "normal", "titleColor": "#000000", "titlePadding": 68}}
 }},
{"data": {"name": "fit"},
 "mark": {"type": "circle", "size": 105, "color": "#ff0000", "opacity": 1},
 "encoding": {
  "x": {"field": "lat", "type": "quantitative", "scale": {"domain": [-90, 90], "nice": false, "zero": false},
   "axis": {"orient": "top", "values": [-90,-85,-80,-75,-70,-65,-60,-55,-50,-45,-40,-35,-30,-25,-20,-15,-10,-5,0,5,10,15,20,25,30,35,40,45,50,55,60,65,70,75,80,85,90],
    "grid": false, "labels": false, "title": null, "domainColor": "#000000", "domainWidth": 6, "tickColor": "#000000", "tickWidth": 5.5,
    "tickSize": {"condition": {"test": "datum.value % 30 === 0", "value": -112}, "value": -56}}},
  "y": {"field": "r", "type": "quantitative", "scale": {"domain": [6045, 6065], "nice": false, "zero": false},
   "axis": {"orient": "right", "values": [6045,6046,6047,6048,6049,6050,6051,6052,6053,6054,6055,6056,6057,6058,6059,6060,6061,6062,6063,6064,6065],
    "grid": false, "labels": false, "title": null, "domainColor": "#000000", "domainWidth": 6, "tickColor": "#000000", "tickWidth": 5.5,
    "tickSize": {"condition": {"test": "datum.value % 5 === 0", "value": -112}, "value": -56}}}
 }}
],
"resolve": {"axis": {"x": "independent", "y": "independent"}}
}
